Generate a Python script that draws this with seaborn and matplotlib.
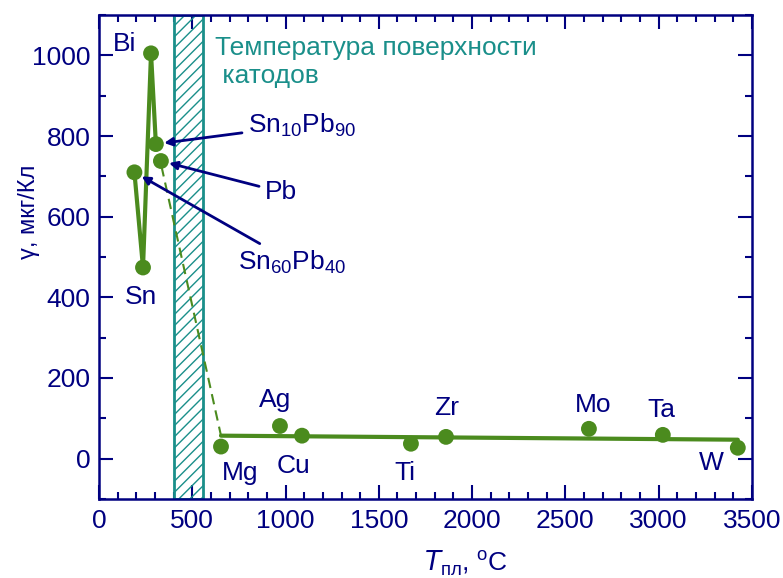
import matplotlib
matplotlib.use("Agg")
import matplotlib.pyplot as plt
import seaborn as sns
import pandas as pd
from matplotlib.ticker import MultipleLocator

# melting temperature (C) and yield (ug/C)
names = ['Sn60Pb40', 'Sn', 'Bi', 'Sn10Pb90', 'Pb', 'Mg', 'Ag', 'Cu', 'Ti', 'Zr', 'Mo', 'Ta', 'W']
t_melt = [190, 236, 279, 305, 332, 654, 970, 1088, 1672, 1860, 2626, 3022, 3424]
gamma = [710, 474, 1005, 780, 738, 30, 81, 57, 37, 54, 74, 59, 27]

# low-melting zigzag (Sn60Pb40 -> Sn -> Bi -> Sn10Pb90)
zig_t = [190, 236, 279, 305]
zig_g = [710, 474, 1005, 780]

# linear trend of refractory metals
fit_t = [654, 3424]
fit_g = [57, 47]

# dashed transition
dash_t = [335, 654]
dash_g = [725, 57]

cathode_span = (400, 560)

navy = '#000080'
green = '#4b8b1e'
teal = '#1a8f8a'

sns.set_style("ticks")
plt.rcParams['font.family'] = ['Liberation Sans', 'DejaVu Sans']

fig = plt.figure(figsize=(7.83, 5.78), dpi=100)
ax = fig.add_axes([0.1264, 0.1367, 0.8340, 0.8373])

ax.axvspan(*cathode_span, facecolor='none', edgecolor=teal, hatch='///', linewidth=2, zorder=1)

df = pd.DataFrame({'t': t_melt, 'g': gamma})
sns.lineplot(x=zig_t, y=zig_g, sort=False, color=green, linewidth=3, ax=ax, zorder=3)
sns.lineplot(x=fit_t, y=fit_g, color=green, linewidth=3, ax=ax, zorder=3)
ax.plot(dash_t, dash_g, color=green, linewidth=1.5, linestyle=(0, (5, 3)), zorder=3)
sns.scatterplot(data=df, x='t', y='g', color=green, s=130, edgecolor='none', ax=ax, zorder=4)

fs = 19
labels = {
    'Bi': (125, 44), 'Sn': (141, 297), 'Mg': (240, 473), 'Ag': (275, 400),
    'Cu': (294, 466), 'Ti': (405, 473), 'Zr': (447, 408), 'Mo': (593, 405),
    'Ta': (661, 410), 'W': (711, 463),
}
for lab, (px, py) in labels.items():
    ax.annotate(lab, xy=(px, 578 - py), xycoords='figure pixels', ha='center', va='center',
                fontsize=fs, color=navy)

arrows = [
    (r'Sn$_{\mathregular{10}}$Pb$_{\mathregular{90}}$', 305, 780, (248, 125)),
    ('Pb', 332, 738, (265, 192)),
    (r'Sn$_{\mathregular{60}}$Pb$_{\mathregular{40}}$', 190, 710, (238, 262)),
]
for lab, x, y, (px, py) in arrows:
    ax.annotate(lab, xy=(x, y), xytext=(px, 578 - py), textcoords='figure pixels',
                ha='left', va='center', fontsize=fs, color=navy,
                arrowprops=dict(arrowstyle='-|>', color=navy, lw=2, mutation_scale=12,
                                shrinkA=2, shrinkB=6))

ax.annotate('Температура поверхности\n катодов', xy=(215, 578 - 62), xycoords='figure pixels',
            ha='left', va='center', fontsize=fs, color=teal, linespacing=1.25)

ax.set_xlim(0, 3500)
ax.set_ylim(-100, 1100)
ax.xaxis.set_major_locator(MultipleLocator(500))
ax.xaxis.set_minor_locator(MultipleLocator(100))
ax.yaxis.set_major_locator(MultipleLocator(200))
ax.yaxis.set_minor_locator(MultipleLocator(100))
ax.tick_params(which='both', direction='in', top=True, right=True, colors=navy,
               labelsize=fs, width=1.5)
ax.tick_params(which='major', length=10)
ax.tick_params(axis='x', which='major', pad=7)
ax.tick_params(axis='y', which='major', pad=6)
ax.tick_params(which='minor', length=5)
for sp in ax.spines.values():
    sp.set_color(navy)
    sp.set_linewidth(1.8)

ax.set_xlabel(r'$\mathit{T}_{\mathregular{пл}}$, $^{\mathregular{o}}$C', fontsize=fs, color=navy)
ax.set_ylabel('γ, мкг/Кл', fontsize=17, color=navy)
ax.xaxis.set_label_coords(0.562, -0.102)
ax.yaxis.set_label_coords(-0.09, 0.593)

fig.savefig('out.png', dpi=100)
